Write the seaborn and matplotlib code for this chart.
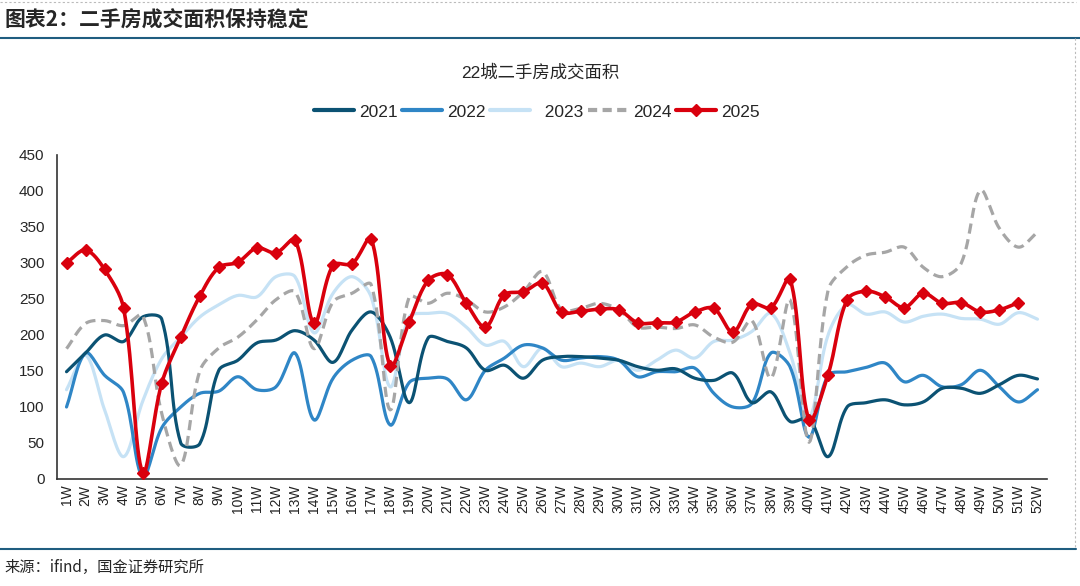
import numpy as np
import pandas as pd
import matplotlib
matplotlib.use("Agg")
import matplotlib.pyplot as plt
import seaborn as sns
from matplotlib.lines import Line2D

# weekly transaction area, 22 cities
weeks = [f"{i}W" for i in range(1, 53)]
y2021 = [149, 175, 200, 191, 225, 222, 50, 49, 151, 165,
         189, 193, 206, 193, 162, 207, 232, 197, 106, 196,
         191, 182, 151, 158, 140, 165, 170, 170, 168, 165,
         156, 151, 153, 140, 137, 147, 106, 121, 80, 84,
         31, 100, 106, 110, 103, 107, 126, 126, 119, 131, 144, 139]
y2022 = [100, 175, 144, 120, 3, 71, 100, 119, 122, 142,
         124, 128, 175, 82, 140, 165, 170, 75, 134, 140,
         139, 110, 151, 168, 186, 182, 165, 168, 170, 165,
         142, 149, 149, 154, 119, 100, 105, 175, 156, 58,
         144, 149, 155, 161, 135, 144, 128, 131, 151, 128, 107, 124]
y2023 = [124, 172, 96, 31, 108, 167, 197, 225, 242, 255,
         253, 281, 281, 203, 258, 281, 253, 128, 225, 230,
         230, 211, 186, 191, 156, 182, 156, 161, 156, 165,
         151, 165, 179, 168, 191, 193, 205, 230, 175, 86,
         200, 242, 229, 232, 218, 226, 229, 223, 222, 215, 231, 222]
y2024 = [181, 216, 220, 213, 227, 91, 19, 150, 182, 197,
         221, 249, 260, 181, 246, 258, 270, 96, 253, 244,
         258, 249, 232, 239, 260, 288, 235, 237, 244, 235,
         211, 211, 209, 214, 197, 190, 220, 140, 249, 51,
         262, 295, 311, 315, 322, 294, 281, 300, 401, 348, 322, 343]
y2025 = [300, 318, 291, 237, 9, 133, 197, 254, 294, 301,
         321, 314, 332, 216, 297, 299, 334, 157, 218, 276,
         284, 244, 211, 256, 260, 272, 232, 233, 236, 235,
         217, 217, 218, 232, 237, 204, 243, 238, 278, 82,
         145, 249, 261, 253, 238, 258, 244, 245, 232, 235, 245]

c21, c22, c23, c24, c25 = "#0b5273", "#2f86c6", "#c6e2f5", "#a6a6a6", "#d9000d"


def smooth(vals, n=16):
    # excel-style smoothed line: bezier through the weekly points,
    # tangents weighted by segment length on screen (px per week / px per unit)
    sx, sy = 19.04, 0.72
    y = np.asarray(vals, float)
    px = np.arange(1, len(y) + 1) * sx
    py = y * sy
    N = len(y)
    cin = np.zeros((N, 2))
    cout = np.zeros((N, 2))
    for i in range(N):
        a, b = max(i - 1, 0), min(i + 1, N - 1)
        tx, ty = px[b] - px[a], py[b] - py[a]
        d1 = np.hypot(px[i] - px[a], py[i] - py[a])
        d2 = np.hypot(px[b] - px[i], py[b] - py[i])
        tot = (d1 + d2) or 1.0
        cin[i] = px[i] - tx * d1 / tot / 3, py[i] - ty * d1 / tot / 3
        cout[i] = px[i] + tx * d2 / tot / 3, py[i] + ty * d2 / tot / 3
    t = np.linspace(0, 1, n, endpoint=False)
    xs, ys = [], []
    for i in range(N - 1):
        bx = (1 - t) ** 3 * px[i] + 3 * (1 - t) ** 2 * t * cout[i, 0] + 3 * (1 - t) * t ** 2 * cin[i + 1, 0] + t ** 3 * px[i + 1]
        by = (1 - t) ** 3 * py[i] + 3 * (1 - t) ** 2 * t * cout[i, 1] + 3 * (1 - t) * t ** 2 * cin[i + 1, 1] + t ** 3 * py[i + 1]
        xs.append(bx / sx)
        ys.append(by / sy)
    xs.append([px[-1] / sx])
    ys.append([y[-1]])
    return pd.DataFrame({"week": np.concatenate(xs), "area": np.concatenate(ys)})


sns.set_style("white")
plt.rcParams["font.family"] = ["Liberation Sans", "Noto Sans CJK SC", "DejaVu Sans"]

fig = plt.figure(figsize=(10.8, 5.86), dpi=100)
ax = fig.add_axes([57 / 1080, 1 - 479 / 586, 990 / 1080, 324 / 586])

kw = dict(x="week", y="area", estimator=None, sort=False, ax=ax)
sns.lineplot(data=smooth(y2023), color=c23, linewidth=2.3, **kw)
sns.lineplot(data=smooth(y2022), color=c22, linewidth=2.3, **kw)
sns.lineplot(data=smooth(y2021), color=c21, linewidth=2.3, **kw)
sns.lineplot(data=smooth(y2024), color=c24, linewidth=2.3, **kw)
ax.lines[-1].set_dashes([3.2, 1.8])
sns.lineplot(data=smooth(y2025), color=c25, linewidth=2.6, **kw)
ax.plot(np.arange(1, len(y2025) + 1), y2025, "D", color=c25, markersize=6, zorder=5)

ax.set_xlim(0.5, 52.5)
ax.set_ylim(0, 450)
ax.set_yticks(range(0, 451, 50))
ax.set_xticks(np.arange(1, 53))
ax.set_xticklabels(weeks, rotation=90, fontsize=10, color="#222222")
ax.set_xticks(np.arange(0.5, 53, 1), minor=True)
ax.tick_params(axis="x", which="major", length=0, pad=4)
ax.tick_params(axis="x", which="minor", length=5, width=0.9, color="#333333", direction="out")
ax.tick_params(axis="y", length=5, width=0.9, color="#333333", direction="out", labelsize=11, pad=4)
ax.set_xlabel("")
ax.set_ylabel("")
for s in ["top", "right"]:
    ax.spines[s].set_visible(False)
for s in ["left", "bottom"]:
    ax.spines[s].set_color("#333333")
    ax.spines[s].set_linewidth(1.2)

handles = [
    Line2D([], [], color=c21, lw=3),
    Line2D([], [], color=c22, lw=3),
    Line2D([], [], color=c23, lw=3),
    Line2D([], [], color=c24, lw=3, dashes=[2.2, 1.3]),
    Line2D([], [], color=c25, lw=3, marker="D", markersize=6),
]
labels = ["2021", "2022", "  2023", "2024", "2025"]
fig.legend(handles, labels, loc="center", bbox_to_anchor=(0.497, 1 - 112 / 586), ncol=5,
           frameon=False, fontsize=12.5, handlelength=2.3, handletextpad=0.3, columnspacing=0.25)

fig.text(0.5, 1 - 72 / 586, "22城二手房成交面积", ha="center", va="center", fontsize=12.5)

# report header / footer
fig.text(0.004, 1 - 20 / 586, "图表2：二手房成交面积保持稳定", ha="left", va="center",
         fontsize=15, fontweight="bold", family=["Noto Sans CJK SC", "DejaVu Sans"])
fig.add_artist(Line2D([0, 1], [1 - 38 / 586] * 2, color="#1f5d80", lw=1.5))
fig.add_artist(Line2D([0, 0.996], [1 - 1.5 / 586] * 2, color="#bbbbbb", lw=0.8, ls=(0, (2, 2))))
fig.add_artist(Line2D([1 - 5 / 1080] * 2, [1 - 38 / 586, 1 - 549 / 586], color="#bbbbbb", lw=0.8, ls=(0, (2, 2))))
fig.add_artist(Line2D([0, 0.996], [1 - 549 / 586] * 2, color="#1f5d80", lw=1.5))
fig.text(0.004, 1 - 567 / 586, "来源：ifind，国金证券研究所", ha="left", va="center",
         fontsize=11, family=["Noto Sans CJK SC", "DejaVu Sans"])

fig.savefig("out.png", dpi=100)
